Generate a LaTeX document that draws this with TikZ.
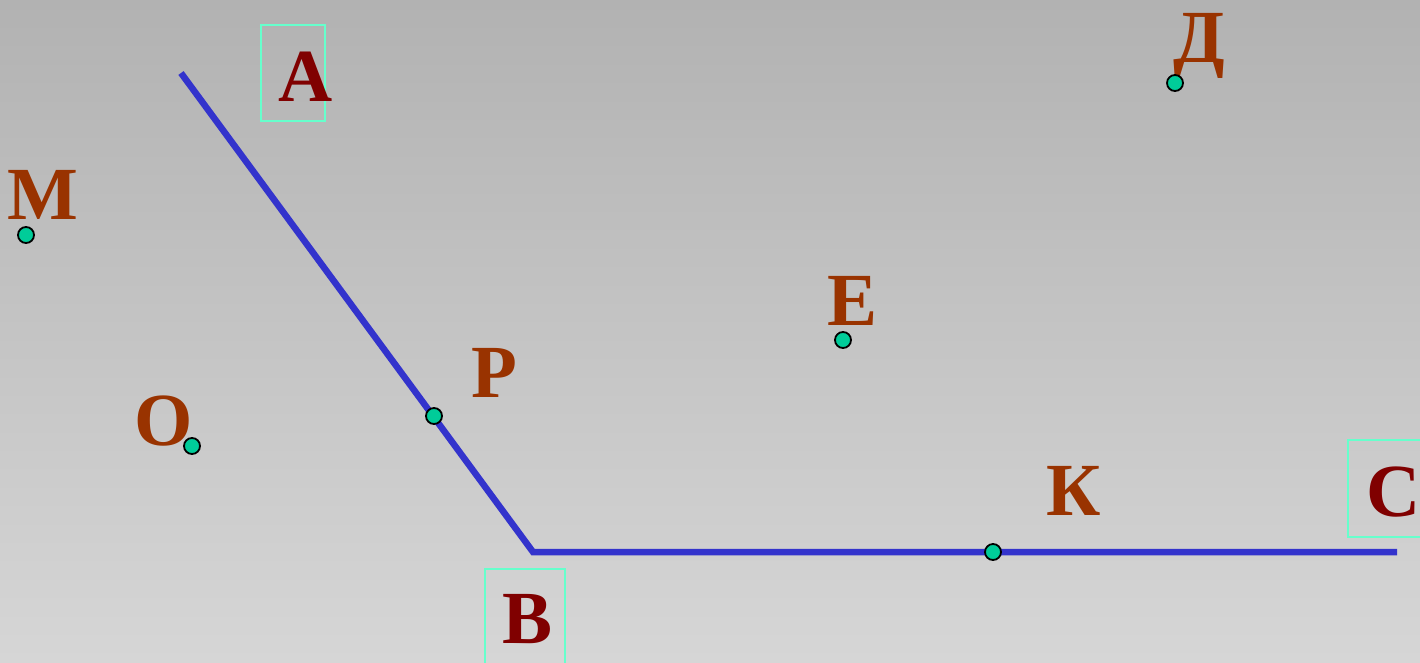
\documentclass[tikz,border=0pt]{standalone}
\usepackage{fontspec}
\setmainfont{Liberation Serif}
\definecolor{bgtop}{HTML}{B2B2B2}
\definecolor{bgbot}{HTML}{D6D6D6}
\definecolor{linecol}{HTML}{3333CC}
\definecolor{dotcol}{HTML}{00CC99}
\definecolor{darkred}{HTML}{800000}
\definecolor{brown}{HTML}{993300}
\definecolor{boxcol}{HTML}{66FFCC}
\tikzset{
  lbl/.style={anchor=base, inner sep=0pt, font=\fontsize{75}{80}\selectfont\bfseries},
  mainlbl/.style={lbl, text=darkred},
  ptlbl/.style={lbl, text=brown},
  dot/.style={circle, draw=black, line width=1.8pt, fill=dotcol, minimum size=16pt, inner sep=0pt},
  lbox/.style={draw=boxcol, line width=1.5pt},
  seg/.style={draw=linecol, line width=6.5pt}
}
\begin{document}
\begin{tikzpicture}[x=1pt,y=-1pt]
\shade[top color=bgtop, bottom color=bgbot] (0,0) rectangle (1420,662);
\useasboundingbox (0,0) rectangle (1420,662);
% boxes
\draw[lbox] (261,25) rectangle (325,121);
\draw[lbox] (485,569) rectangle (565,665);
\draw[lbox] (1348,440) rectangle (1425,537);
% polyline
\coordinate (a) at (181,73);
\coordinate (b) at (533,552);
\coordinate (c) at (1397,552);
\draw[seg] (a) -- (b) -- (c);
% labels
\node[mainlbl] (lA) at (306,101) {А};
\node[mainlbl] (lB) at (528,643) {В};
\node[mainlbl] (lC) at (1394,516) {С};
\node[ptlbl] (lM) at (43,219) {М};
\node[ptlbl] (lD) at (1199,62) {Д};
\node[ptlbl] (lE) at (852,325) {Е};
\node[ptlbl] (lP) at (494,397) {Р};
\node[ptlbl] (lO) at (164,445) {О};
\node[ptlbl] (lK) at (1074,515) {К};
% points
\node[dot] (M) at (26,235) {};
\node[dot] (D) at (1175,83) {};
\node[dot] (E) at (843,340) {};
\node[dot] (P) at (434,416) {};
\node[dot] (O) at (192,446) {};
\node[dot] (K) at (993,552) {};
\end{tikzpicture}
\end{document}
